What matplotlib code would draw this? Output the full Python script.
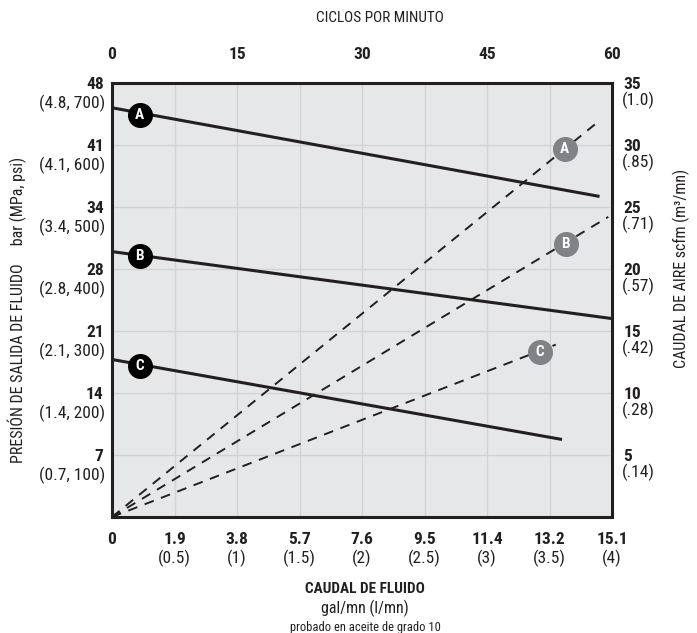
import matplotlib
matplotlib.use("Agg")
import matplotlib.pyplot as plt
from matplotlib import font_manager

# fluid flow axis (gal/mn, labelled in l/mn)
gpm_ticks = [0, 0.5, 1, 1.5, 2, 2.5, 3, 3.5, 4]
lpm_labels = ["0", "1.9", "3.8", "5.7", "7.6", "9.5", "11.4", "13.2", "15.1"]
gpm_labels = ["", "(0.5)", "(1)", "(1.5)", "(2)", "(2.5)", "(3)", "(3.5)", "(4)"]

# cycles per minute (top)
cpm_ticks = [0, 15, 30, 45, 60]

# outlet pressure (psi) with bar labels
psi_ticks = [100, 200, 300, 400, 500, 600, 700]
bar_labels = ["7", "14", "21", "28", "34", "41", "48"]
mpa_psi_labels = ["(0.7, 100)", "(1.4, 200)", "(2.1, 300)", "(2.8, 400)",
                  "(3.4, 500)", "(4.1, 600)", "(4.8, 700)"]

# air consumption (scfm) with m3/mn labels
scfm_ticks = [5, 10, 15, 20, 25, 30, 35]
m3_labels = ["(.14)", "(.28)", "(.42)", "(.57)", "(.71)", "(.85)", "(1.0)"]

# pressure curves (solid)
curve_names = ["A", "B", "C"]
press_x = [[0, 3.9], [0, 4.0], [0, 3.6]]
press_y = [[660, 517], [428, 320], [254, 125]]
press_mark_x = [0.22, 0.22, 0.22]
press_mark_y = [648, 421, 243]

# air curves (dashed)
air_x = [[0, 3.88], [0, 3.97], [0, 3.55]]
air_y = [[0, 31.8], [0, 24.2], [0, 13.9]]
air_mark_x = [3.62, 3.63, 3.42]
air_mark_y = [29.7, 22.0, 13.3]

# pick a narrow face if one is installed
fonts = font_manager.fontManager.ttflist
names = {f.name for f in fonts}
narrow = [n for n in ("Liberation Sans Narrow", "Roboto Condensed",
                      "Open Sans Condensed", "Noto Sans Condensed") if n in names]
if narrow:
    plt.rcParams["font.family"] = [narrow[0], "DejaVu Sans"]
elif any(f.name == "DejaVu Sans" and f.stretch == "condensed" for f in fonts):
    plt.rcParams["font.family"] = ["DejaVu Sans"]
    plt.rcParams["font.stretch"] = "condensed"
else:
    plt.rcParams["font.family"] = ["Liberation Sans", "DejaVu Sans"]

INK = "#231f20"
GREY_MARK = "#808285"
PAREN_SIZE = 12.5

fig = plt.figure(figsize=(6.97, 6.33), dpi=100)
ax = fig.add_axes([0.1607, 0.1833, 0.7174, 0.6856])
ax.set_xlim(0, 4)
ax.set_ylim(0, 700)
ax.set_facecolor("#e6e7e8")
ax.set_xticks(gpm_ticks)
ax.set_xticklabels(lpm_labels, fontweight="bold", fontsize=12.5, color=INK)
ax.set_yticks(psi_ticks)
ax.set_yticklabels(bar_labels, fontweight="bold", fontsize=12.5, color=INK)
ax.tick_params(axis="x", length=0, pad=11)
ax.tick_params(axis="y", length=0, pad=6)
ax.grid(color="#d2d3d5", lw=1, zorder=0)
ax.set_axisbelow(True)
for s in ax.spines.values():
    s.set_color(INK)
    s.set_linewidth(2.2)
    s.set_zorder(5)

for x, lab in zip(gpm_ticks, gpm_labels):
    ax.annotate(lab, xy=(x, 0), xycoords=ax.get_xaxis_transform(),
                xytext=(0, -29.5), textcoords="offset points",
                ha="center", va="center", fontsize=PAREN_SIZE, color=INK)
for y, lab in zip(psi_ticks, mpa_psi_labels):
    ax.annotate(lab, xy=(0, y), xycoords=ax.get_yaxis_transform(),
                xytext=(-5, -14.5), textcoords="offset points",
                ha="right", va="center", fontsize=PAREN_SIZE, color=INK)

for xs, ys, mx, my, name in zip(press_x, press_y, press_mark_x, press_mark_y, curve_names):
    ax.plot(xs, ys, color=INK, lw=2.2, solid_capstyle="butt", zorder=3)
    ax.plot(mx, my, "o", ms=17, color="black", zorder=4)
    ax.text(mx, my, name, color="white", fontweight="bold", fontsize=11,
            ha="center", va="center", zorder=5)

twin = ax.twinx()
twin.set_ylim(0, 35)
twin.set_yticks(scfm_ticks)
twin.set_yticklabels([str(v) for v in scfm_ticks], fontweight="bold",
                     fontsize=12.5, color=INK)
twin.tick_params(axis="y", length=0, pad=8)
for s in twin.spines.values():
    s.set_visible(False)
for y, lab in zip(scfm_ticks, m3_labels):
    twin.annotate(lab, xy=(1, y), xycoords=twin.get_yaxis_transform(),
                  xytext=(7, -12.5), textcoords="offset points",
                  ha="left", va="center", fontsize=PAREN_SIZE, color=INK)

for xs, ys, mx, my, name in zip(air_x, air_y, air_mark_x, air_mark_y, curve_names):
    twin.plot(xs, ys, color=INK, lw=1.4, dashes=(5, 4), zorder=3)
    twin.plot(mx, my, "o", ms=17, color=GREY_MARK, zorder=4)
    twin.text(mx, my, name, color="white", fontweight="bold", fontsize=11,
              ha="center", va="center", zorder=5)

top = ax.secondary_xaxis("top", functions=(lambda g: g * 15, lambda c: c / 15))
top.set_xticks(cpm_ticks)
top.set_xticklabels([str(v) for v in cpm_ticks], fontweight="bold",
                    fontsize=12.5, color=INK)
top.tick_params(length=0, pad=15)
top.spines["top"].set_visible(False)

fig.text(380 / 697, 1 - 18 / 633, "CICLOS POR MINUTO", ha="center", va="center",
         fontsize=11, color=INK)
fig.text(365 / 697, 1 - 589 / 633, "CAUDAL DE FLUIDO", ha="center", va="center",
         fontsize=11, fontweight="bold", color=INK)
fig.text(365 / 697, 1 - 608 / 633, "gal/mn (l/mn)", ha="center", va="center",
         fontsize=11.5, color=INK)
fig.text(365 / 697, 1 - 627 / 633, "probado en aceite de grado 10", ha="center",
         va="center", fontsize=9, color=INK)
fig.text(17 / 697, 1 - 310 / 633, "PRESIÓN DE SALIDA DE FLUIDO     bar (MPa, psi)",
         rotation=90, ha="center", va="center", fontsize=11.5, color=INK)
fig.text(681 / 697, 1 - 268 / 633, "CAUDAL DE AIRE scfm (m³/mn)",
         rotation=90, ha="center", va="center", fontsize=11.5, color=INK)

fig.savefig("out.png", dpi=100)
